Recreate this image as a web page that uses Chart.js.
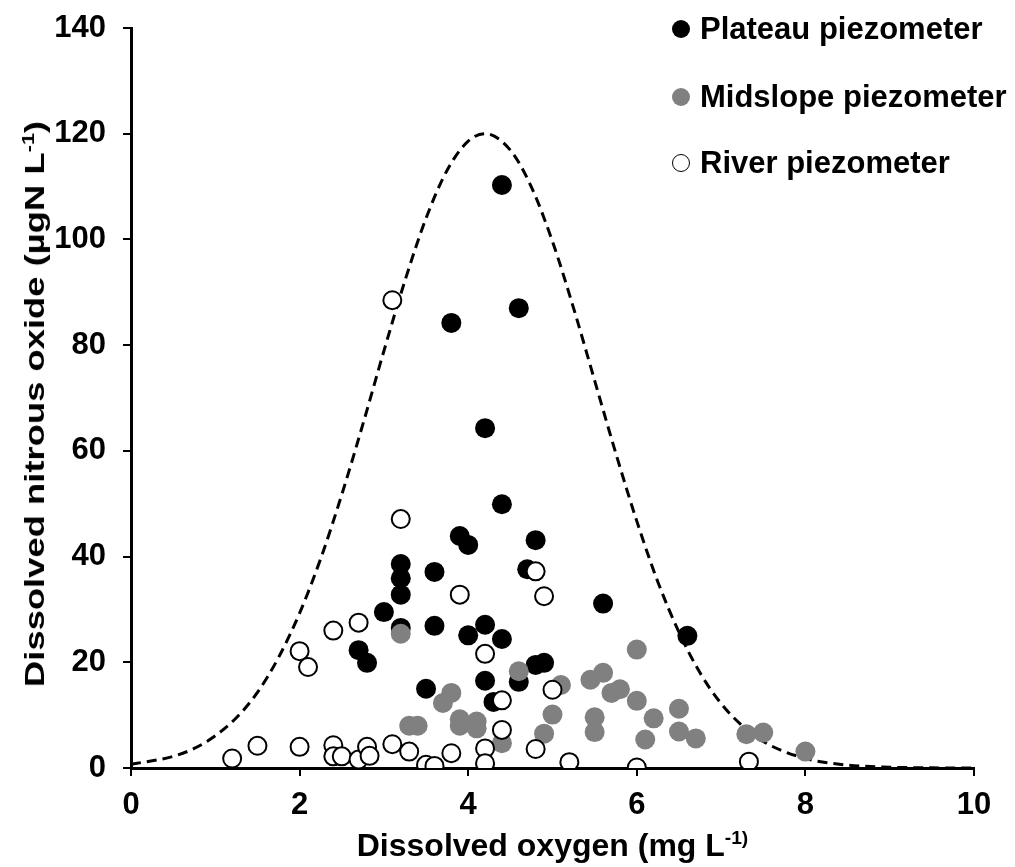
<!DOCTYPE html>
<html>
<head>
<meta charset="utf-8">
<script src="https://cdn.jsdelivr.net/npm/chart.js@4.4.1/dist/chart.umd.min.js"></script>
<style>
  html, body { margin: 0; padding: 0; background: #fff; }
  #wrap { position: relative; width: 1015px; height: 867px; font-family: "Liberation Sans", Arial, sans-serif; font-weight: bold; color: #000; }
  canvas { position: absolute; left: 0; top: 0; }
  .legend { position: absolute; left: 671px; top: 8px; }
  .row { position: absolute; left: 0; height: 40px; white-space: nowrap; font-size: 31px; line-height: 40px; }
  .mk { position: absolute; left: 1px; top: 11px; width: 18px; height: 18px; border-radius: 50%; box-sizing: border-box; }
  .lbl { position: absolute; left: 29px; top: 0; }
  .xt { position: absolute; left: 131px; width: 843px; top: 826px; text-align: center; font-size: 32px; line-height: 38px; white-space: nowrap; }
  .yt { position: absolute; left: 35px; top: 404px; transform: translate(-50%, -50%) rotate(-90deg) scale(1.3, 1); font-size: 28px; line-height: 34px; white-space: nowrap; }
  sup { font-size: 60%; vertical-align: 0.6em; line-height: 0; }
</style>
</head>
<body>
<div id="wrap">
  <canvas id="c" width="1015" height="867"></canvas>
  <div class="legend">
    <div class="row" style="top:1px"><span class="mk" style="background:#000"></span><span class="lbl">Plateau piezometer</span></div>
    <div class="row" style="top:69px"><span class="mk" style="background:#808080"></span><span class="lbl">Midslope piezometer</span></div>
    <div class="row" style="top:135px"><span class="mk" style="background:#fff;border:1.5px solid #000"></span><span class="lbl">River piezometer</span></div>
  </div>
  <div class="xt">Dissolved oxygen (mg L<sup>-1)</sup></div>
  <div class="yt">Dissolved nitrous oxide (µgN L<sup>-1</sup>)</div>
</div>
<script>
// Dissolved oxygen (mg L-1) and dissolved N2O (µgN L-1) per piezometer
const plateauO2  = [4.4, 3.8, 4.6, 4.2, 4.4, 3.9, 4.0, 4.8, 4.7, 3.2, 3.2, 3.2, 3.6, 3.0, 3.2, 3.6, 4.2, 4.0, 4.4, 2.7, 2.8, 4.2, 3.5, 4.3, 4.6, 4.8, 4.9, 5.6, 6.6];
const plateauN2O = [110.3, 84.2, 87.0, 64.3, 49.9, 43.9, 42.2, 43.1, 37.6, 38.6, 35.9, 32.8, 37.1, 29.5, 26.5, 26.9, 27.1, 25.1, 24.4, 22.3, 19.9, 16.5, 15.0, 12.5, 16.3, 19.5, 19.9, 31.1, 25.0];

const midslopeO2  = [3.2, 3.3, 3.4, 3.7, 3.8, 3.9, 3.9, 4.1, 4.1, 4.4, 4.6, 4.9, 5.0, 5.1, 5.45, 5.6, 5.7, 5.8, 6.0, 6.0, 5.5, 5.5, 6.2, 6.1, 6.5, 6.5, 6.7, 7.3, 7.5, 8.0];
const midslopeN2O = [25.4, 8.0, 8.0, 12.3, 14.2, 9.2, 8.0, 8.8, 7.5, 4.7, 18.3, 6.5, 10.1, 15.7, 16.7, 18.0, 14.2, 14.9, 22.4, 12.7, 9.6, 6.8, 9.4, 5.4, 11.2, 6.9, 5.6, 6.4, 6.7, 3.1];

const riverO2  = [3.1, 3.2, 3.9, 4.9, 4.8, 2.7, 2.4, 4.2, 2.0, 2.1, 4.4, 5.0, 4.4, 4.8, 5.2, 6.0, 7.33, 1.2, 1.5, 2.0, 2.4, 2.4, 2.5, 2.7, 2.8, 2.83, 3.1, 3.3, 3.5, 3.6, 3.8, 4.2, 4.2];
const riverN2O = [88.5, 47.1, 32.8, 32.5, 37.2, 27.5, 26.0, 21.6, 22.1, 19.1, 12.8, 14.8, 7.2, 3.6, 1.1, 0.1, 1.2, 1.8, 4.2, 4.0, 4.3, 2.2, 2.2, 1.6, 4.0, 2.3, 4.5, 3.1, 0.6, 0.4, 2.8, 3.7, 0.9];

// Dashed envelope curve
const envelopeO2  = [0, 0.5, 0.75, 1, 1.25, 1.5, 1.75, 2, 2.25, 2.5, 2.75, 3, 3.25, 3.5, 3.75, 4, 4.2, 4.5, 4.75, 5, 5.25, 5.5, 5.75, 6, 6.25, 6.5, 6.75, 7, 7.25, 7.5, 8, 8.5, 9, 9.5, 10];
const envelopeN2O = [0.7, 2.2, 3.7, 6.1, 9.5, 14.3, 20.9, 29.3, 39.6, 51.7, 65.0, 78.9, 92.2, 104.0, 113.1, 118.6, 120.0, 116.9, 109.9, 99.6, 87.0, 73.3, 59.6, 46.7, 35.2, 25.7, 18.0, 12.2, 8.0, 5.0, 1.8, 0.55, 0.15, 0.03, 0.0];

const xTicks = [0, 2, 4, 6, 8, 10];
const yTicks = [0, 20, 40, 60, 80, 100, 120, 140];

const pts = (xs, ys) => xs.map((x, i) => ({ x: x, y: ys[i] }));
const FONT = { family: '"Liberation Sans", Arial, sans-serif', size: 31, weight: 'bold' };

new Chart(document.getElementById('c'), {
  type: 'scatter',
  data: {
    datasets: [
      { label: 'Plateau piezometer', data: pts(plateauO2, plateauN2O), order: 3,
        pointRadius: 10, pointBackgroundColor: '#000', pointBorderColor: '#000', pointBorderWidth: 0 },
      { label: 'Midslope piezometer', data: pts(midslopeO2, midslopeN2O), order: 2,
        pointRadius: 10, pointBackgroundColor: '#808080', pointBorderColor: '#808080', pointBorderWidth: 0 },
      { label: 'River piezometer', data: pts(riverO2, riverN2O), order: 1,
        pointRadius: 9, pointBackgroundColor: '#fff', pointBorderColor: '#000', pointBorderWidth: 2 },
      { type: 'line', label: 'envelope', data: pts(envelopeO2, envelopeN2O), order: 4,
        showLine: true, pointRadius: 0, borderColor: '#000', borderWidth: 3, borderDash: [10, 6],
        cubicInterpolationMode: 'monotone', fill: false }
    ]
  },
  options: {
    responsive: false,
    animation: false,
    events: [],
    layout: { padding: { top: 28, right: 41, left: 0, bottom: 0 } },
    plugins: { legend: { display: false }, tooltip: { enabled: false } },
    scales: {
      x: {
        type: 'linear', min: 0, max: 10,
        afterBuildTicks: (s) => { s.ticks = xTicks.map(v => ({ value: v })); },
        afterFit: (s) => { s.height = 99; s.paddingLeft = 0; s.paddingRight = 0; },
        ticks: { color: '#000', font: FONT, padding: 11, maxRotation: 0 },
        grid: { drawOnChartArea: false, drawTicks: true, tickLength: 8, color: '#000', lineWidth: 2 },
        border: { display: true, color: '#000', width: 3 }
      },
      y: {
        type: 'linear', min: 0, max: 140,
        afterBuildTicks: (s) => { s.ticks = yTicks.map(v => ({ value: v })); },
        afterFit: (s) => { s.width = 131; s.paddingTop = 0; s.paddingBottom = 0; },
        ticks: { color: '#000', font: FONT, padding: 17 },
        grid: { drawOnChartArea: false, drawTicks: true, tickLength: 8, color: '#000', lineWidth: 2 },
        border: { display: true, color: '#000', width: 3 }
      }
    }
  }
});
</script>
</body>
</html>
